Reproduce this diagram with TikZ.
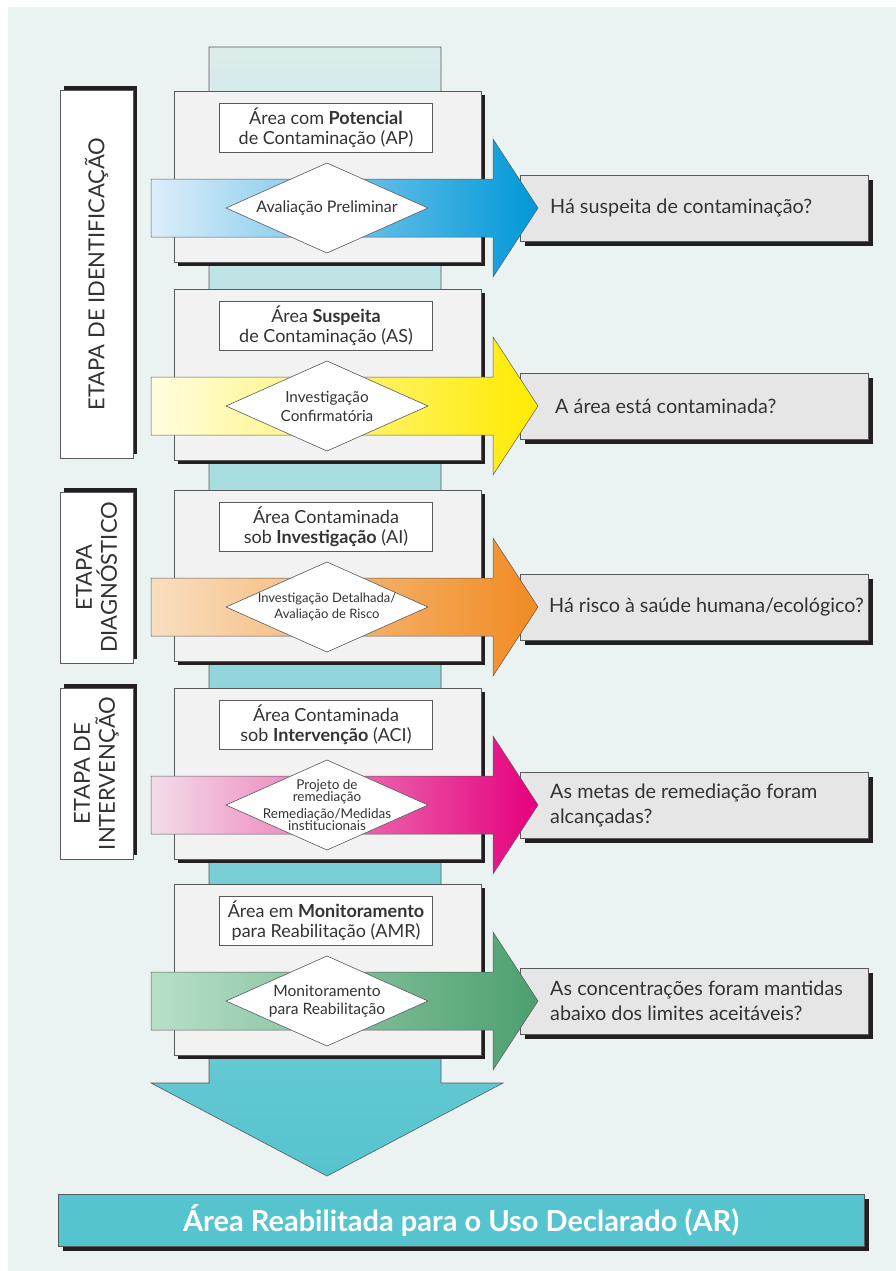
\documentclass[tikz,border=0pt]{standalone}
\usepackage{fontspec}
\setmainfont{Lato}
\definecolor{bgc}{HTML}{EAF3F2}
\definecolor{bordc}{HTML}{58595B}
\definecolor{shadc}{HTML}{231F20}
\definecolor{panelc}{HTML}{F2F2F2}
\definecolor{qc}{HTML}{E6E6E6}
\definecolor{txtc}{HTML}{333333}
\definecolor{coltop}{HTML}{DBECEB}
\definecolor{colmid}{HTML}{A6DADD}
\definecolor{colbot}{HTML}{55C4CF}
\definecolor{arc}{HTML}{55C4CF}
\definecolor{blueL}{HTML}{DDEEFA}\definecolor{blueR}{HTML}{0098D8}
\definecolor{yelL}{HTML}{FFFDE0}\definecolor{yelR}{HTML}{FFEA00}
\definecolor{orL}{HTML}{F9DFC0}\definecolor{orR}{HTML}{F18A21}
\definecolor{piL}{HTML}{F3DCE8}\definecolor{piR}{HTML}{E5007D}
\definecolor{grL}{HTML}{B8E0C8}\definecolor{grR}{HTML}{4C9F6F}
\tikzset{
  panel/.style={draw=bordc, line width=0.7pt, fill=panelc, minimum width=307pt, minimum height=171pt, inner sep=0pt},
  tbox/.style={draw=bordc, line width=0.7pt, fill=white, minimum width=213pt, minimum height=49pt, inner sep=0pt, align=center, text=txtc, font=\fontsize{18}{20}\selectfont},
  qbox/.style={draw=bordc, line width=0.7pt, fill=qc, minimum width=348pt, minimum height=66pt, inner sep=0pt},
  qtext/.style={anchor=west, align=left, text=txtc, inner sep=0pt, font=\fontsize{19.8}{25}\selectfont},
  diam/.style={draw=bordc, line width=0.6pt, fill=white},
  dtext/.style={align=center, text=txtc, inner sep=0pt},
  side/.style={draw=bordc, line width=0.7pt, fill=white, inner sep=0pt},
  sidetext/.style={rotate=90, align=center, text=txtc, inner sep=0pt, font=\fontsize{22}{25}\selectfont},
}
\newcommand\stage[9]{%
  \pgfmathsetmacro\T{#2}%
  \pgfmathsetmacro\B{#2+171}%
  \pgfmathsetmacro\C{#2+117}%
  \fill[shadc] (178,\T+4) rectangle (485,\B+4);
  \node[panel] (#1p) at (327.5,{(\T+\B)/2}) {};
  \node[tbox] (#1t) at (326,\T+37) {#5};
  \fill[shadc] (525,\C-28) rectangle (873,\C+38);
  \node[qbox] (#1q) at (694,\C) {};
  \shade[left color=#3, right color=#4, draw=bordc, line width=0.5pt]
    (151,\C-29) -- (493,\C-29) -- (493,\C-69) -- (538,\C) -- (493,\C+69) -- (493,\C+29) -- (151,\C+29) -- cycle;
  \draw[diam] (226,\C) -- (327,\C-45) -- (428,\C) -- (327,\C+45) -- cycle;
  \node[dtext, font=#7] (#1d) at (327,\C) {#6};
  \node[qtext] (#1x) at (#9,\C) {#8};
}
\begin{document}
\begin{tikzpicture}[x=1pt,y=-1pt]
\useasboundingbox (0,0) rectangle (896,1271);
\fill[white] (0,0) rectangle (896,1271);
\fill[bgc] (8,7) rectangle (896,1271);
% central column with arrow head
\shade[top color=coltop, middle color=colmid, bottom color=colbot, draw=bordc, line width=0.6pt]
  (209,47) -- (441,47) -- (441,1083) -- (503,1083) -- (327,1176) -- (151,1083) -- (209,1083) -- cycle;
% side labels
\fill[shadc] (64,86) rectangle (137,454);
\node[side, minimum width=73pt, minimum height=368pt] (s1) at (96.5,274) {};
\node[sidetext] (s1t) at (s1.center) {ETAPA DE IDENTIFICAÇÃO};
\fill[shadc] (64,488) rectangle (137,659);
\node[side, minimum width=73pt, minimum height=171pt] (s2) at (96.5,577.5) {};
\node[sidetext] (s2t) at (s2.center) {ETAPA\\DIAGNÓSTICO};
\fill[shadc] (64,684) rectangle (137,855);
\node[side, minimum width=73pt, minimum height=171pt] (s3) at (96.5,773.5) {};
\node[sidetext] (s3t) at (s3.center) {ETAPA DE\\INTERVENÇÃO};
% stages
\stage{a}{91}{blueL}{blueR}{Área com \textbf{Potencial}\\de Contaminação (AP)}{Avaliação Preliminar}{\fontsize{16}{19}\selectfont}{Há suspeita de contaminação?}{550}
\stage{b}{289}{yelL}{yelR}{Área \textbf{Suspeita}\\de Contaminação (AS)}{Investigação\\Confirmatória}{\fontsize{15.3}{19}\selectfont}{A área está contaminada?}{555}
\stage{c}{490}{orL}{orR}{Área Contaminada\\sob \textbf{Investigação} (AI)}{Investigação Detalhada/\\Avaliação de Risco}{\fontsize{13}{16}\selectfont}{Há risco à saúde humana/ecológico?}{549}
\stage{d}{688}{piL}{piR}{Área Contaminada\\sob \textbf{Intervenção} (ACI)}{Projeto de\\remediação\\[4pt]Remediação/Medidas\\institucionais}{\fontsize{13.5}{12.5}\selectfont}{As metas de remediação foram\\alcançadas?}{550}
\stage{e}{884}{grL}{grR}{Área em \textbf{Monitoramento}\\para Reabilitação (AMR)}{Monitoramento\\para Reabilitação}{\fontsize{15.6}{18}\selectfont}{As concentrações foram mantidas\\abaixo dos limites aceitáveis?}{550}
% bottom bar
\fill[shadc] (63,1199) rectangle (869,1251);
\node[draw=bordc, line width=1pt, fill=arc, minimum width=806pt, minimum height=52pt, inner sep=0pt, text=white, font=\fontsize{29}{32}\selectfont\bfseries] (ar) at (461,1220) {Área Reabilitada para o Uso Declarado (AR)};
\end{tikzpicture}
\end{document}
